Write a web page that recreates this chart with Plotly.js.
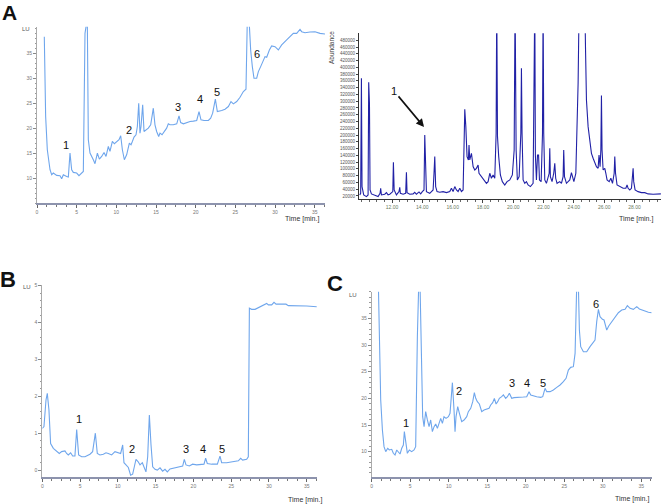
<!DOCTYPE html>
<html><head><meta charset="utf-8">
<script src="https://cdn.plot.ly/plotly-3.0.1.min.js"></script>
<style>html,body{margin:0;padding:0;background:#fff}#chart{width:661px;height:504px}</style>
</head><body><div id="chart"></div>
<script>
// Panel A (left): HPLC-FLD chromatogram, time [min] vs LU
const aTime = [0.92,1.09,1.30,1.64,1.85,2.06,2.48,2.90,3.11,3.32,3.74,3.95,4.16,4.37,4.58,5.00,5.29,5.63,5.84,6.05,6.34,6.47,6.68,7.10,7.31,7.61,7.86,8.15,8.45,8.70,8.99,9.20,9.50,9.75,10.04,10.34,10.55,10.76,11.01,11.30,11.64,11.85,12.02,12.23,12.48,12.65,12.82,12.98,13.11,13.32,13.49,13.74,14.03,14.33,14.66,14.87,15.08,15.34,15.50,15.76,16.05,16.34,16.55,16.76,17.18,17.61,17.90,18.11,18.45,18.87,19.29,19.71,20.13,20.42,20.67,21.05,21.60,21.89,22.14,22.48,22.73,23.28,23.70,24.12,24.45,24.75,25.17,25.59,26.01,26.34,26.51,26.72,26.93,27.14,27.35,27.69,27.90,28.19,28.53,28.74,28.95,29.29,29.58,30.00,30.42,30.84,31.47,31.89,32.31,32.73,33.15,33.36,33.78,34.41,35.04,35.67,36.30];
const aLU = [38.3,22.33,15.67,11.67,10.67,11.0,10.53,10.47,9.87,10.67,10.33,10.2,15.0,11.67,11.13,11.0,10.47,11.0,11.33,39.0,42,17.67,15.0,13.67,12.87,15.0,13.8,14.33,15.13,14.33,16.33,15.33,17.33,16.87,17.33,17.67,18.47,15.67,13.67,14.67,17.0,16.67,17.33,18.2,18.67,20.33,25.0,19.0,20.33,24.67,19.33,19.67,20.0,20.67,24.0,20.67,19.33,18.33,19.0,18.67,19.33,20.0,20.87,20.67,20.67,20.87,22.47,21.13,20.87,21.13,21.33,21.4,21.53,23.33,21.67,21.53,21.53,22.0,23.0,25.8,23.33,23.53,23.8,24.33,25.33,24.87,25.33,26.2,27.33,27.8,42,42,35.67,32.33,30.0,30.0,31.33,32.33,33.67,34.33,34.2,35.67,36.47,36.33,35.67,36.67,37.67,38.33,39.0,39.0,39.8,39.33,39.13,39.27,39.33,39.0,38.87];

// Panel A (right): GC-MS total ion chromatogram, time [min] vs abundance
const gcTime = [9.87,9.93,9.98,10.02,10.13,10.31,10.42,10.46,10.51,10.55,10.64,10.86,11.08,11.21,11.25,11.30,11.52,11.63,11.74,11.85,12.05,12.09,12.14,12.29,12.46,12.51,12.55,12.73,12.90,12.95,12.99,13.17,13.39,13.50,13.61,13.78,13.89,14.00,14.11,14.16,14.20,14.27,14.49,14.71,14.77,14.82,14.88,14.97,15.15,15.37,15.59,15.81,15.92,16.03,16.14,16.25,16.36,16.47,16.58,16.69,16.76,16.80,16.87,16.95,17.04,17.08,17.13,17.24,17.35,17.46,17.57,17.68,17.74,17.90,18.01,18.12,18.23,18.34,18.45,18.56,18.67,18.78,18.87,18.91,18.96,19.04,19.15,19.28,19.44,19.59,19.77,19.94,20.06,20.12,20.19,20.27,20.39,20.50,20.54,20.58,20.65,20.76,20.87,20.98,21.13,21.31,21.38,21.42,21.46,21.53,21.60,21.67,21.73,21.84,21.93,21.97,22.01,22.08,22.19,22.30,22.37,22.41,22.45,22.56,22.67,22.74,22.80,22.89,23.07,23.18,23.29,23.33,23.38,23.51,23.62,23.73,23.84,23.91,24.00,24.13,24.21,24.28,24.35,24.72,24.77,24.83,24.94,25.05,25.16,25.27,25.38,25.49,25.60,25.66,25.73,25.78,25.82,25.86,25.93,26.04,26.11,26.19,26.33,26.44,26.55,26.66,26.70,26.75,26.85,27.03,27.25,27.43,27.51,27.58,27.69,27.80,27.87,27.91,27.95,28.04,28.24,28.46,28.68,28.90,29.23,29.74];
const gcAbundance = [22900,27900,367600,47600,23000,18000,23000,355800,293700,37700,26000,21000,18000,27900,42600,23000,25000,29800,23000,25000,32800,119500,37700,23000,32800,45600,27900,25000,27900,89900,29800,25000,26000,30800,25000,31800,26000,32800,37700,200200,96800,32800,27900,37700,87000,136200,47600,32800,30800,32800,29800,32800,42600,32800,47600,37700,32800,42600,32800,37700,185400,276000,224800,136200,126300,170700,126300,146000,106700,96800,101700,111600,87000,77100,67300,62300,57400,62300,87000,72200,82000,72200,205100,600000,195300,136200,82000,62300,52500,62300,67300,82000,155900,600000,155900,67300,77100,205100,397100,205100,67300,57400,62300,52500,47600,57400,313400,600000,141100,67300,141100,141100,67300,62300,205100,600000,205100,67300,57400,77100,87000,160800,77100,62300,87000,116500,72200,57400,62300,57400,77100,155900,77100,57400,62300,67300,89000,72200,62300,87000,205100,352800,600000,600000,451300,303600,224800,175600,146000,131300,116500,106700,101700,141100,106700,155900,316400,155900,96800,101700,87000,67300,62300,72200,57400,87000,136200,87000,52500,47600,42600,42600,52500,42600,37700,42600,77100,101700,62300,37700,32800,29800,29800,26000,25000,26000];

// Panel B: HPLC-FLD chromatogram
const bTime = [0,0.22,0.49,0.66,0.88,1.10,1.46,1.90,2.25,2.56,3.00,3.22,3.44,3.75,4.02,4.32,4.55,4.81,5.21,5.65,5.96,6.31,6.66,7.02,7.28,7.63,8.08,8.43,8.74,9.18,9.62,10.06,10.37,10.64,10.81,11.08,11.39,11.69,11.96,12.18,12.40,12.67,12.93,13.24,13.46,13.72,13.95,14.17,14.39,14.61,14.92,15.22,15.58,15.93,16.24,16.55,16.90,17.34,17.78,18.23,18.58,18.80,19.02,19.46,19.90,20.43,21.09,21.40,21.62,21.84,22.42,23.17,23.52,23.74,24.40,25.29,25.95,26.26,26.52,27.05,27.27,27.41,27.71,28.16,28.60,29.04,29.48,29.70,29.92,30.14,30.36,30.67,30.94,31.46,32.26,32.57,33.23,34.11,35.00,36.32];
const bLU = [1.13,1.18,1.90,2.08,1.63,0.72,0.59,0.50,0.45,0.50,0.52,0.45,0.41,0.47,0.38,0.38,1.10,0.41,0.36,0.36,0.39,0.43,0.50,1.0,0.45,0.41,0.43,0.47,0.45,0.41,0.50,0.47,0.45,0.68,0.20,0.14,0.07,-0.14,-0.11,0.09,0.29,0.23,0.14,0.20,0.09,-0.05,0.36,1.49,0.68,0.09,0.02,0.0,0.06,-0.03,0.02,-0.05,0.03,0.05,0.07,0.09,0.11,0.29,0.14,0.11,0.16,0.14,0.14,0.16,0.32,0.18,0.16,0.16,0.38,0.20,0.20,0.23,0.25,0.32,0.27,0.29,0.36,4.39,4.36,4.36,4.41,4.45,4.50,4.52,4.48,4.48,4.48,4.55,4.50,4.50,4.50,4.46,4.46,4.45,4.45,4.43];

// Panel C: HPLC-FLD chromatogram
const cTime = [0.87,1.00,1.17,1.39,1.60,1.82,2.08,2.29,2.60,2.81,3.03,3.25,3.46,3.68,3.90,4.11,4.24,4.42,4.63,4.89,5.19,5.50,5.71,5.93,6.10,6.28,6.45,6.62,6.80,7.01,7.23,7.45,7.66,7.88,8.10,8.31,8.53,8.74,8.96,9.18,9.39,9.65,9.96,10.17,10.30,10.48,10.69,10.82,10.95,11.17,11.39,11.69,11.99,12.34,12.55,12.86,13.12,13.33,13.51,13.72,13.98,14.29,14.59,14.94,15.24,15.45,15.71,15.93,16.15,16.36,16.58,16.88,17.10,17.40,17.62,17.88,18.18,18.48,18.83,19.26,19.70,20.13,20.43,20.65,21.00,21.43,21.95,22.21,22.51,22.73,23.16,23.59,24.03,24.46,24.89,25.24,25.54,25.84,26.19,26.41,26.62,26.84,26.97,27.14,27.49,27.92,28.35,28.70,29.00,29.22,29.44,29.65,29.96,30.17,30.52,30.78,31.17,31.60,32.03,32.47,32.90,33.20,33.55,33.98,34.42,34.76,35.06,35.50,35.93,36.36];
const cLU = [41,27.81,19.69,14.06,10.94,10.0,10.63,10.31,10.44,9.69,9.38,10.31,10.0,9.56,10.63,11.25,13.75,11.25,9.69,10.31,10.0,10.31,10.94,31.56,41,41,25.31,16.56,14.69,17.5,15.94,14.69,15.94,13.75,14.69,15.19,14.38,15.44,16.25,15.31,16.56,16.25,16.56,17.19,20.0,22.94,17.81,13.75,16.56,18.44,17.19,15.63,15.94,16.56,17.5,18.13,19.38,21.06,20.0,19.38,18.94,17.5,17.81,17.94,18.13,18.75,19.19,20.0,18.94,19.38,20.0,20.31,20.63,20.0,20.31,20.94,20.0,20.13,20.19,20.31,20.25,20.31,21.25,20.63,20.44,20.31,20.19,20.31,21.88,21.25,21.25,21.56,22.06,22.5,23.13,23.75,25.31,25.81,25.94,28.44,41,41,32.81,29.69,28.75,28.75,29.69,30.31,30.94,34.38,36.69,35.31,34.81,34.69,32.81,33.56,34.38,35.31,36.06,36.56,36.69,37.38,36.88,36.69,37.19,36.75,36.56,36.25,36.13,36.06];

// Peak number labels
const peakNames = ["1","2","3","4","5","6"];
const aPeakTime = [3.66,11.60,17.73,20.55,22.73,27.77];
const aPeakLU = [16.67,19.67,24.2,25.8,27.33,34.87];
const bPeakTime = [4.85,11.92,18.98,21.31,23.74];
const bPeakLU = [1.38,0.56,0.56,0.56,0.56];
const cPeakTime = [4.42,11.39,18.27,20.22,22.21,29.09];
const cPeakLU = [15.44,21.38,22.81,22.81,22.81,37.63];

// Axis tick values
const lcTimeTicks = [0,5,10,15,20,25,30,35];
const aLUTicks = [10,15,20,25,30,35];
const bLUTicks = [0,1,2,3,4,5];
const cLUTicks = [10,15,20,25,30,35];
const gcTimeTicks = [12,14,16,18,20,22,24,26,28];
const gcAbundTicks = [20000,40000,60000,80000,100000,120000,140000,160000,180000,200000,220000,240000,260000,280000,300000,320000,340000,360000,380000,400000,420000,440000,460000,480000];

const W = 661, H = 504;
const px = v => v / W, py = v => 1 - v / H;
const FONT = "Liberation Sans, Arial, sans-serif";
const lcColor = "#6fa6ec";
const gcColor = "#2121a6";

const traces = [
  {x: aTime, y: aLU, xaxis: 'x', yaxis: 'y', mode: 'lines', line: {color: lcColor, width: 1.1}, hoverinfo: 'skip'},
  {x: gcTime, y: gcAbundance, xaxis: 'x2', yaxis: 'y2', mode: 'lines', line: {color: gcColor, width: 1.1}, hoverinfo: 'skip'},
  {x: bTime, y: bLU, xaxis: 'x3', yaxis: 'y3', mode: 'lines', line: {color: lcColor, width: 1.1}, hoverinfo: 'skip'},
  {x: cTime, y: cLU, xaxis: 'x4', yaxis: 'y4', mode: 'lines', line: {color: lcColor, width: 1.1}, hoverinfo: 'skip'}
];

function lcX(dom, range, anchor) {
  return {domain: dom, range: range, anchor: anchor, showgrid: false, zeroline: false,
    showline: true, linecolor: '#8d93ad', linewidth: 2, ticks: 'outside', ticklen: 3, tickwidth: 1, tickcolor: '#666',
    tickmode: 'array', tickvals: lcTimeTicks, tickfont: {size: 5, color: '#777', family: FONT},
    minor: {ticks: 'outside', ticklen: 2, dtick: 1.25, tick0: 0, tickcolor: '#777', showgrid: false}};
}
function lcY(dom, range, anchor, tv) {
  return {domain: dom, range: range, anchor: anchor, showgrid: false, zeroline: false,
    showline: true, linecolor: '#aaaaaa', linewidth: 1, ticks: 'outside', ticklen: 3, tickwidth: 1, tickcolor: '#888',
    tickmode: 'array', tickvals: tv, tickfont: {size: 5, color: '#777', family: FONT},
    minor: {ticks: 'outside', ticklen: 1.5, dtick: (tv[1]-tv[0])/5, tick0: tv[0], tickcolor: '#999', showgrid: false}};
}

const ann = [];
function paperText(text, x, y, size, bold, extra) {
  ann.push(Object.assign({xref: 'paper', yref: 'paper', x: px(x), y: py(y), text: bold ? '<b>' + text + '</b>' : text,
    showarrow: false, xanchor: 'center', yanchor: 'middle', font: {size: size, color: '#111', family: FONT}}, extra || {}));
}
paperText('A', 9, 0, 21, true, {yanchor: 'top', borderpad: 0});
paperText('B', 8, 279, 22, true);
paperText('C', 335, 283, 22, true);
paperText('LU', 26, 29, 6, false, {font: {size: 6, color: '#555', family: FONT}});
paperText('LU', 27, 287, 6, false, {font: {size: 6, color: '#555', family: FONT}});
paperText('LU', 353, 295, 6, false, {font: {size: 6, color: '#555', family: FONT}});
paperText('Abundance', 331, 48, 6.5, false, {textangle: -90, font: {size: 6.5, color: '#444', family: FONT}});
paperText('Time [min.]', 302, 219, 7, false, {font: {size: 7, color: '#333', family: FONT}});
paperText('Time [min.]', 636, 219, 7, false, {font: {size: 7, color: '#333', family: FONT}});
paperText('Time [min.]', 305, 500, 7, false, {font: {size: 7, color: '#333', family: FONT}});
paperText('Time [min.]', 632, 499, 7, false, {font: {size: 7, color: '#333', family: FONT}});

function peaks(xs, ys, xr, yr) {
  xs.forEach((t, i) => ann.push({xref: xr, yref: yr, x: t, y: ys[i], text: peakNames[i], showarrow: false,
    xanchor: 'center', yanchor: 'middle', font: {size: 11, color: '#111', family: FONT}}));
}
peaks(aPeakTime, aPeakLU, 'x', 'y');
peaks(bPeakTime, bPeakLU, 'x3', 'y3');
peaks(cPeakTime, cPeakLU, 'x4', 'y4');
// arrow pointing at peak 1 in GC-MS trace
ann.push({xref: 'x2', yref: 'y2', x: 14.11, y: 223800, text: '1', showarrow: true, ax: -30, ay: -36,
  arrowhead: 2, arrowsize: 1, arrowwidth: 1.6, arrowcolor: '#111', standoff: 0,
  font: {size: 11, color: '#111', family: FONT}});

const layout = {
  width: W, height: H, margin: {l: 0, r: 0, t: 0, b: 0}, paper_bgcolor: '#fff', plot_bgcolor: 'rgba(0,0,0,0)',
  showlegend: false, font: {family: FONT},
  xaxis: lcX([px(37), px(325)], [0, 36.3], 'y'),
  yaxis: lcY([py(203), py(26.7)], [5, 40.33], 'x', aLUTicks),
  xaxis2: {domain: [px(359), 1], range: [9.82, 29.75], anchor: 'y2', showgrid: false, zeroline: false,
    showline: true, linecolor: '#333', linewidth: 1, ticks: 'outside', ticklen: 3, tickcolor: '#444',
    tickmode: 'array', tickvals: gcTimeTicks, tickformat: '.2f', tickfont: {size: 5, color: '#6b7b62', family: FONT},
    minor: {ticks: 'outside', ticklen: 2, dtick: 0.5, tick0: 10, tickcolor: '#666', showgrid: false}},
  yaxis2: {domain: [py(199), py(33.3)], range: [11000, 500500], anchor: 'x2', showgrid: false, zeroline: false,
    showline: true, linecolor: '#333', linewidth: 1, ticks: 'outside', ticklen: 2, tickcolor: '#444',
    tickmode: 'array', tickvals: gcAbundTicks, tickformat: 'd', tickfont: {size: 4.5, color: '#555', family: FONT}},
  xaxis3: lcX([px(42.3), px(317.3)], [0, 36.4], 'y3'),
  yaxis3: lcY([py(476.7), py(285)], [-0.18, 5.02], 'x3', bLUTicks),
  xaxis4: lcX([px(371.7), px(651.7)], [0, 36.36], 'y4'),
  yaxis4: lcY([py(477.3), py(291.7)], [5.19, 40], 'x4', cLUTicks),
  annotations: ann
};

Plotly.newPlot('chart', traces, layout, {staticPlot: true, displayModeBar: false});
</script>
</body></html>
